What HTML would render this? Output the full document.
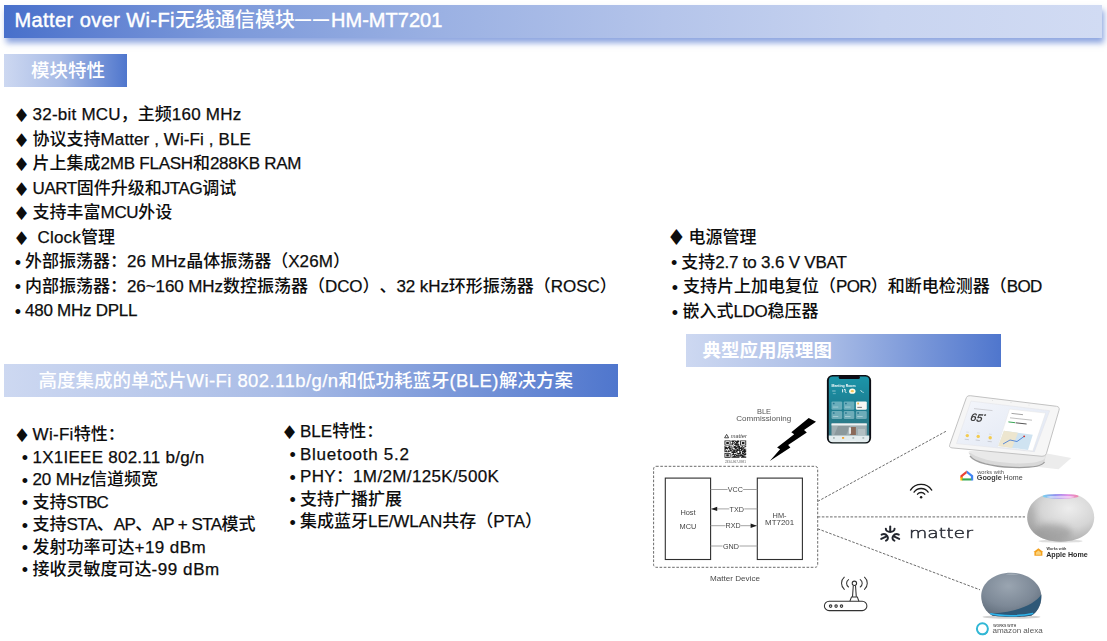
<!DOCTYPE html>
<html lang="zh-CN">
<head>
<meta charset="utf-8">
<title>Matter over Wi-Fi无线通信模块——HM-MT7201</title>
<style>

html,body{margin:0;padding:0;background:#fff;}
body{width:1107px;height:641px;position:relative;overflow:hidden;
  font-family:"Liberation Sans","Noto Sans CJK SC",sans-serif;color:#0d0d0d;
  text-spacing-trim:space-all;font-kerning:normal;}
.bar{position:absolute;color:#fff;white-space:nowrap;}
#hdr{left:4px;top:5px;width:1098px;height:33px;
  background:linear-gradient(90deg,#4870cb 0%,#6485d3 10%,#7c99da 20%,#9bb1e3 40%,#b4c4ea 60%,#c8d4f0 80%,#d1dbf3 100%);
  box-shadow:2px 5px 6px rgba(72,112,205,0.62);}
#hdr span.ti{position:absolute;left:10.5px;top:-1.5px;line-height:33px;font-size:20px;font-weight:500;}
#hdr .l{-webkit-text-stroke-width:0.45px;}
.lbl{background:linear-gradient(90deg,#cdd8f1 0%,#a9bce6 45%,#4f76cd 100%);height:33px;line-height:33px;font-weight:500;font-size:18.5px;}
.t{position:absolute;white-space:nowrap;font-size:17px;line-height:24px;height:24px;font-weight:500;}
.l{font-size:17px;font-weight:400;-webkit-text-stroke-width:0.25px;}
.mk{position:absolute;line-height:24px;height:24px;font-size:17px;white-space:nowrap;}
.dm{font-family:"DejaVu Sans",sans-serif;font-size:19px;margin-left:-1px;margin-top:0.3px;}
.dM{font-size:22px;margin-left:-1.6px;margin-top:0px;}
.bl{font-family:"Liberation Sans",sans-serif;font-size:18px;margin-left:-0.7px;margin-top:0.9px;}

</style>
</head>
<body>
<div class="bar" id="hdr"><span class="ti"><span class="l" id="t1" style="font-size:20px;letter-spacing:0.42px">Matter over Wi-Fi</span><span id="t2">无线通信模块</span><span id="t3" style="letter-spacing:2.00px;font-size:16px;font-weight:700;position:relative;top:-1.4px;">——</span><span class="l" id="t4" style="font-size:20px;letter-spacing:0.03px">HM-MT7201</span></span></div>
<div class="bar lbl" style="left:4px;top:54px;width:123px;"><span style="position:absolute;left:27px;">模块特性</span></div>
<span class="mk dm" style="left:14.00px;top:103.00px;">♦</span>
<div class="t" id="a1" style="left:32.60px;top:103.00px;"><span class="l" style="letter-spacing:0.23px;">32-bit MCU</span>，主频<span class="l" style="letter-spacing:0.23px;">160 MHz</span></div>
<span class="mk dm" style="left:14.00px;top:127.50px;">♦</span>
<div class="t" id="a2" style="left:32.60px;top:127.50px;">协议支持<span class="l" style="letter-spacing:0.10px;">Matter , Wi-Fi , BLE</span></div>
<span class="mk dm" style="left:14.00px;top:152.00px;">♦</span>
<div class="t" id="a3" style="left:32.60px;top:152.00px;">片上集成<span class="l" style="letter-spacing:-0.24px;">2MB FLASH</span>和<span class="l" style="letter-spacing:-0.24px;">288KB RAM</span></div>
<span class="mk dm" style="left:14.00px;top:176.50px;">♦</span>
<div class="t" id="a4" style="left:32.60px;top:176.50px;"><span class="l" style="letter-spacing:-0.44px;">UART</span>固件升级和<span class="l" style="letter-spacing:-0.44px;">JTAG</span>调试</div>
<span class="mk dm" style="left:14.00px;top:201.00px;">♦</span>
<div class="t" id="a5" style="left:32.60px;top:201.00px;">支持丰富<span class="l" style="letter-spacing:-0.33px;">MCU</span>外设</div>
<span class="mk dm" style="left:14.00px;top:225.50px;">♦</span>
<div class="t" id="a6" style="left:37.50px;top:225.50px;"><span class="l" style="letter-spacing:0.20px;">Clock</span>管理</div>
<span class="mk bl" style="left:15.50px;top:250.00px;">•</span>
<div class="t" id="a7" style="left:25.00px;top:250.00px;">外部振荡器：<span class="l" style="letter-spacing:0.10px;">26 MHz</span>晶体振荡器（<span class="l" style="letter-spacing:0.10px;">X26M</span>）</div>
<span class="mk bl" style="left:15.50px;top:274.50px;">•</span>
<div class="t" id="a8" style="left:25.00px;top:274.50px;">内部振荡器：<span class="l" style="letter-spacing:-0.09px;">26~160 MHz</span>数控振荡器（<span class="l" style="letter-spacing:-0.09px;">DCO</span>）、<span class="l" style="letter-spacing:-0.09px;">32 kHz</span>环形振荡器（<span class="l" style="letter-spacing:-0.09px;">ROSC</span>）</div>
<span class="mk bl" style="left:15.50px;top:299.00px;">•</span>
<div class="t" id="a9" style="left:25.00px;top:299.00px;"><span class="l" style="letter-spacing:-0.25px;">480 MHz DPLL</span></div>
<span class="mk dm dM" style="left:668.00px;top:225.50px;">♦</span>
<div class="t" id="p1" style="left:688.50px;top:225.50px;">电源管理</div>
<span class="mk bl" style="left:671.75px;top:250.50px;">•</span>
<div class="t" id="p2" style="left:681.25px;top:250.50px;">支持<span class="l" style="letter-spacing:-0.20px;">2.7 to 3.6 V VBAT</span></div>
<span class="mk bl" style="left:672.50px;top:275.20px;">•</span>
<div class="t" id="p3" style="left:683.00px;top:275.20px;">支持片上加电复位（<span class="l" style="letter-spacing:-0.67px;">POR</span>）和断电检测器（<span class="l" style="letter-spacing:-0.67px;">BOD</span></div>
<span class="mk bl" style="left:672.50px;top:300.00px;">•</span>
<div class="t" id="p4" style="left:682.50px;top:300.00px;">嵌入式<span class="l" style="letter-spacing:-0.33px;">LDO</span>稳压器</div>
<span class="mk dm" style="left:14.50px;top:423.00px;">♦</span>
<div class="t" id="w1" style="left:32.55px;top:423.00px;"><span class="l" style="letter-spacing:0.30px;">Wi-Fi</span>特性：</div>
<span class="mk bl" style="left:22.50px;top:445.50px;">•</span>
<div class="t" id="w2" style="left:32.55px;top:445.50px;"><span class="l" style="letter-spacing:0.25px;">1X1IEEE 802.11 b/g/n</span></div>
<span class="mk bl" style="left:22.50px;top:468.00px;">•</span>
<div class="t" id="w3" style="left:32.55px;top:468.00px;"><span class="l" style="letter-spacing:-0.17px;">20 MHz</span>信道频宽</div>
<span class="mk bl" style="left:22.50px;top:490.50px;">•</span>
<div class="t" id="w4" style="left:32.55px;top:490.50px;">支持<span class="l" style="letter-spacing:-1.00px;">STBC</span></div>
<span class="mk bl" style="left:22.50px;top:513.00px;">•</span>
<div class="t" id="w5" style="left:32.55px;top:513.00px;">支持<span class="l" style="letter-spacing:-0.54px;">STA</span>、<span class="l" style="letter-spacing:-0.54px;">AP</span>、<span class="l" style="letter-spacing:-0.54px;">AP + STA</span>模式</div>
<span class="mk bl" style="left:22.50px;top:535.50px;">•</span>
<div class="t" id="w6" style="left:32.55px;top:535.50px;">发射功率可达<span class="l" style="letter-spacing:0.43px;">+19 dBm</span></div>
<span class="mk bl" style="left:22.50px;top:557.50px;">•</span>
<div class="t" id="w7" style="left:32.55px;top:557.50px;">接收灵敏度可达<span class="l" style="letter-spacing:0.57px;">-99 dBm</span></div>
<span class="mk dm" style="left:282.00px;top:420.00px;">♦</span>
<div class="t" id="b1" style="left:300.00px;top:420.00px;"><span class="l" style="letter-spacing:-0.00px;">BLE</span>特性：</div>
<span class="mk bl" style="left:290.25px;top:442.50px;">•</span>
<div class="t" id="b2" style="left:300.00px;top:442.50px;"><span class="l" style="letter-spacing:0.73px;">Bluetooth 5.2</span></div>
<span class="mk bl" style="left:290.25px;top:465.00px;">•</span>
<div class="t" id="b3" style="left:300.00px;top:465.00px;"><span class="l" style="letter-spacing:0.36px;">PHY</span>：<span class="l" style="letter-spacing:0.36px;">1M/2M/125K/500K</span></div>
<span class="mk bl" style="left:290.25px;top:487.50px;">•</span>
<div class="t" id="b4" style="left:300.00px;top:487.50px;">支持广播扩展</div>
<span class="mk bl" style="left:290.25px;top:510.00px;">•</span>
<div class="t" id="b5" style="left:300.00px;top:510.00px;">集成蓝牙<span class="l" style="letter-spacing:-0.05px;">LE/WLAN</span>共存（<span class="l" style="letter-spacing:-0.05px;">PTA</span>）</div>
<div class="bar lbl" style="left:4px;top:364px;width:614px;"><span id="s2" style="position:absolute;left:34.5px;">高度集成的单芯片<span class="l" style="letter-spacing:0.43px;font-size:18.50px;">Wi-Fi 802.11b/g/n</span>和低功耗蓝牙<span class="l" style="letter-spacing:0.43px;font-size:18.50px;">(BLE)</span>解决方案</span></div>
<div class="bar lbl" style="left:686px;top:334px;width:315px;height:32.5px;line-height:34px;font-weight:700;"><span style="position:absolute;left:16.5px;">典型应用原理图</span></div>
<svg style="position:absolute;left:640px;top:368px;" width="467" height="273" viewBox="640 368 467 273" font-family="'Liberation Sans',sans-serif">
<defs>
<linearGradient id="gPhone" x1="0" y1="0" x2="0" y2="1"><stop offset="0" stop-color="#1b95a9"/><stop offset="0.45" stop-color="#1c7e92"/><stop offset="1" stop-color="#3b7782"/></linearGradient>
<radialGradient id="gPod" cx="0.62" cy="0.3" r="0.8"><stop offset="0" stop-color="#ededed"/><stop offset="0.5" stop-color="#d6d6d6"/><stop offset="1" stop-color="#a2a2a2"/></radialGradient>
<radialGradient id="gEcho" cx="0.45" cy="0.3" r="0.75"><stop offset="0" stop-color="#9aa5b1"/><stop offset="0.6" stop-color="#7d8997"/><stop offset="1" stop-color="#5d6a78"/></radialGradient>
<linearGradient id="gSiri" x1="0" y1="0" x2="1" y2="0"><stop offset="0" stop-color="#7ad7f0"/><stop offset="0.35" stop-color="#8c8df0"/><stop offset="0.7" stop-color="#e08be8"/><stop offset="1" stop-color="#f08aa8"/></linearGradient>
<linearGradient id="gScr" x1="0" y1="0" x2="1" y2="1"><stop offset="0" stop-color="#f4f6fb"/><stop offset="1" stop-color="#dfe6f3"/></linearGradient>
<filter id="fblur3" x="-50%" y="-50%" width="200%" height="200%"><feGaussianBlur stdDeviation="3"/></filter>
<filter id="soft" x="-5%" y="-5%" width="110%" height="110%"><feGaussianBlur stdDeviation="0.35"/></filter>
</defs>
<g filter="url(#soft)">
<rect x="653.6" y="466.3" width="164.1" height="101" rx="2.5" fill="none" stroke="#5a5a5a" stroke-width="0.9" stroke-dasharray="2.6 1.6"/>
<rect x="665.3" y="478.1" width="45.3" height="81.4" fill="#fff" stroke="#2e2e2e" stroke-width="1.1"/>
<rect x="757.3" y="478.1" width="45.1" height="81.4" fill="#fff" stroke="#2e2e2e" stroke-width="1.1"/>
<line x1="710.6" y1="489.5" x2="757.3" y2="489.5" stroke="#9a9a9a" stroke-width="0.9"/>
<line x1="710.6" y1="508.9" x2="757.3" y2="508.9" stroke="#9a9a9a" stroke-width="0.9"/>
<line x1="710.6" y1="525.7" x2="757.3" y2="525.7" stroke="#9a9a9a" stroke-width="0.9"/>
<line x1="710.6" y1="546.0" x2="757.3" y2="546.0" stroke="#9a9a9a" stroke-width="0.9"/>
<polygon points="711.2,508.9 717.2,506.7 717.2,511.1" fill="#1a1a1a"/>
<polygon points="756.8,525.7 750.6,523.5 750.6,527.9" fill="#1a1a1a"/>
<rect x="727.6" y="486.0" width="15.5" height="7" fill="#fff"/>
<text x="735.4" y="492.1" font-size="7.2" text-anchor="middle" fill="#444">VCC</text>
<rect x="729.3" y="505.4" width="15.0" height="7" fill="#fff"/>
<text x="736.8" y="511.5" font-size="7.2" text-anchor="middle" fill="#444">TXD</text>
<rect x="725.5" y="522.2" width="15.5" height="7" fill="#fff"/>
<text x="733.2" y="528.3" font-size="7.2" text-anchor="middle" fill="#444">RXD</text>
<rect x="722.5" y="542.5" width="17.0" height="7" fill="#fff"/>
<text x="731.0" y="548.6" font-size="7.2" text-anchor="middle" fill="#444">GND</text>
<text x="688" y="514.7" font-size="7.4" text-anchor="middle" fill="#444">Host</text>
<text x="688" y="529.2" font-size="7.4" text-anchor="middle" fill="#444">MCU</text>
<text x="779.6" y="517.8" font-size="7.4" text-anchor="middle" fill="#444">HM-</text>
<text x="779.6" y="525.4" font-size="7.4" text-anchor="middle" fill="#444" textLength="29" lengthAdjust="spacingAndGlyphs">MT7201</text>
<text x="735" y="581.3" font-size="7.2" text-anchor="middle" fill="#4a4a4a" textLength="50" lengthAdjust="spacingAndGlyphs">Matter Device</text>
<text x="764" y="414.2" font-size="7.4" text-anchor="middle" fill="#555">BLE</text>
<text x="763.8" y="420.9" font-size="7.4" text-anchor="middle" fill="#555" textLength="55" lengthAdjust="spacingAndGlyphs">Commissioning</text>
<path d="M724.50 440.60h6.08v0.74h-6.08zM731.44 440.60h4.34v0.74h-4.34zM736.65 440.60h2.60v0.74h-2.60zM740.12 440.60h6.08v0.74h-6.08zM724.50 441.29h0.87v0.74h-0.87zM729.71 441.29h0.87v0.74h-0.87zM731.44 441.29h2.60v0.74h-2.60zM734.92 441.29h4.34v0.74h-4.34zM740.12 441.29h0.87v0.74h-0.87zM745.33 441.29h0.87v0.74h-0.87zM724.50 441.98h0.87v0.74h-0.87zM726.24 441.98h2.60v0.74h-2.60zM729.71 441.98h0.87v0.74h-0.87zM732.31 441.98h0.87v0.74h-0.87zM734.05 441.98h0.87v0.74h-0.87zM735.78 441.98h2.60v0.74h-2.60zM740.12 441.98h0.87v0.74h-0.87zM741.86 441.98h2.60v0.74h-2.60zM745.33 441.98h0.87v0.74h-0.87zM724.50 442.66h0.87v0.74h-0.87zM726.24 442.66h2.60v0.74h-2.60zM729.71 442.66h0.87v0.74h-0.87zM732.31 442.66h2.60v0.74h-2.60zM735.78 442.66h2.60v0.74h-2.60zM740.12 442.66h0.87v0.74h-0.87zM741.86 442.66h2.60v0.74h-2.60zM745.33 442.66h0.87v0.74h-0.87zM724.50 443.35h0.87v0.74h-0.87zM726.24 443.35h2.60v0.74h-2.60zM729.71 443.35h0.87v0.74h-0.87zM731.44 443.35h1.74v0.74h-1.74zM734.92 443.35h1.74v0.74h-1.74zM737.52 443.35h0.87v0.74h-0.87zM740.12 443.35h0.87v0.74h-0.87zM741.86 443.35h2.60v0.74h-2.60zM745.33 443.35h0.87v0.74h-0.87zM724.50 444.04h0.87v0.74h-0.87zM729.71 444.04h0.87v0.74h-0.87zM731.44 444.04h1.74v0.74h-1.74zM734.05 444.04h5.21v0.74h-5.21zM740.12 444.04h0.87v0.74h-0.87zM745.33 444.04h0.87v0.74h-0.87zM724.50 444.73h6.08v0.74h-6.08zM731.44 444.73h0.87v0.74h-0.87zM734.92 444.73h2.60v0.74h-2.60zM738.39 444.73h0.87v0.74h-0.87zM740.12 444.73h6.08v0.74h-6.08zM733.18 445.42h0.87v0.74h-0.87zM736.65 445.42h2.60v0.74h-2.60zM724.50 446.10h0.87v0.74h-0.87zM728.84 446.10h1.74v0.74h-1.74zM731.44 446.10h0.87v0.74h-0.87zM734.05 446.10h1.74v0.74h-1.74zM737.52 446.10h2.60v0.74h-2.60zM741.86 446.10h0.87v0.74h-0.87zM744.46 446.10h1.74v0.74h-1.74zM724.50 446.79h2.60v0.74h-2.60zM727.97 446.79h1.74v0.74h-1.74zM730.58 446.79h0.87v0.74h-0.87zM733.18 446.79h6.94v0.74h-6.94zM740.99 446.79h2.60v0.74h-2.60zM744.46 446.79h0.87v0.74h-0.87zM724.50 447.48h6.08v0.74h-6.08zM731.44 447.48h1.74v0.74h-1.74zM734.05 447.48h3.47v0.74h-3.47zM738.39 447.48h3.47v0.74h-3.47zM742.73 447.48h1.74v0.74h-1.74zM724.50 448.17h3.47v0.74h-3.47zM728.84 448.17h2.60v0.74h-2.60zM734.92 448.17h1.74v0.74h-1.74zM738.39 448.17h5.21v0.74h-5.21zM724.50 448.86h0.87v0.74h-0.87zM727.10 448.86h0.87v0.74h-0.87zM729.71 448.86h0.87v0.74h-0.87zM731.44 448.86h1.74v0.74h-1.74zM734.92 448.86h5.21v0.74h-5.21zM740.99 448.86h5.21v0.74h-5.21zM724.50 449.54h1.74v0.74h-1.74zM728.84 449.54h2.60v0.74h-2.60zM732.31 449.54h2.60v0.74h-2.60zM736.65 449.54h1.74v0.74h-1.74zM739.26 449.54h0.87v0.74h-0.87zM740.99 449.54h1.74v0.74h-1.74zM743.60 449.54h1.74v0.74h-1.74zM724.50 450.23h0.87v0.74h-0.87zM726.24 450.23h0.87v0.74h-0.87zM727.97 450.23h0.87v0.74h-0.87zM729.71 450.23h2.60v0.74h-2.60zM733.18 450.23h8.68v0.74h-8.68zM742.73 450.23h3.47v0.74h-3.47zM724.50 450.92h2.60v0.74h-2.60zM727.97 450.92h2.60v0.74h-2.60zM731.44 450.92h0.87v0.74h-0.87zM733.18 450.92h1.74v0.74h-1.74zM735.78 450.92h1.74v0.74h-1.74zM739.26 450.92h0.87v0.74h-0.87zM741.86 450.92h4.34v0.74h-4.34zM724.50 451.61h0.87v0.74h-0.87zM726.24 451.61h2.60v0.74h-2.60zM731.44 451.61h6.08v0.74h-6.08zM739.26 451.61h1.74v0.74h-1.74zM741.86 451.61h4.34v0.74h-4.34zM731.44 452.30h4.34v0.74h-4.34zM736.65 452.30h0.87v0.74h-0.87zM739.26 452.30h1.74v0.74h-1.74zM741.86 452.30h0.87v0.74h-0.87zM743.60 452.30h1.74v0.74h-1.74zM724.50 452.98h6.08v0.74h-6.08zM733.18 452.98h0.87v0.74h-0.87zM736.65 452.98h4.34v0.74h-4.34zM741.86 452.98h2.60v0.74h-2.60zM745.33 452.98h0.87v0.74h-0.87zM724.50 453.67h0.87v0.74h-0.87zM729.71 453.67h0.87v0.74h-0.87zM731.44 453.67h2.60v0.74h-2.60zM734.92 453.67h0.87v0.74h-0.87zM737.52 453.67h2.60v0.74h-2.60zM741.86 453.67h4.34v0.74h-4.34zM724.50 454.36h0.87v0.74h-0.87zM726.24 454.36h2.60v0.74h-2.60zM729.71 454.36h0.87v0.74h-0.87zM732.31 454.36h4.34v0.74h-4.34zM737.52 454.36h0.87v0.74h-0.87zM740.12 454.36h1.74v0.74h-1.74zM743.60 454.36h2.60v0.74h-2.60zM724.50 455.05h0.87v0.74h-0.87zM726.24 455.05h2.60v0.74h-2.60zM729.71 455.05h0.87v0.74h-0.87zM731.44 455.05h0.87v0.74h-0.87zM734.05 455.05h0.87v0.74h-0.87zM735.78 455.05h7.81v0.74h-7.81zM744.46 455.05h0.87v0.74h-0.87zM724.50 455.74h0.87v0.74h-0.87zM726.24 455.74h2.60v0.74h-2.60zM729.71 455.74h0.87v0.74h-0.87zM732.31 455.74h5.21v0.74h-5.21zM738.39 455.74h0.87v0.74h-0.87zM740.12 455.74h4.34v0.74h-4.34zM724.50 456.42h0.87v0.74h-0.87zM729.71 456.42h0.87v0.74h-0.87zM731.44 456.42h0.87v0.74h-0.87zM733.18 456.42h2.60v0.74h-2.60zM736.65 456.42h3.47v0.74h-3.47zM741.86 456.42h4.34v0.74h-4.34zM724.50 457.11h6.08v0.74h-6.08zM731.44 457.11h7.81v0.74h-7.81zM740.99 457.11h5.21v0.74h-5.21z" fill="#1c1c1c"/>
<polygon points="724.6,437.8 726.6,434.4 728.6,437.8" fill="#fff" stroke="#333" stroke-width="0.9"/>
<text x="730.8" y="437.6" font-size="4.6" font-style="italic" fill="#444" textLength="16" lengthAdjust="spacingAndGlyphs">matter</text>
<text x="735.4" y="462.6" font-size="2.8" text-anchor="middle" fill="#666" textLength="21" lengthAdjust="spacingAndGlyphs">2334-967-8981</text>
<polygon points="808.7,418 816,421.7 804,430.1 806.8,432.5 788.1,445.1 790.4,447.4 769.8,461 780.1,449.3 777.1,447.4 794.2,434.3 791.3,432.3" fill="#000"/>
<line x1="817.7" y1="501.4" x2="946.5" y2="431" stroke="#5a5a5a" stroke-width="0.9" stroke-dasharray="2.6 1.5" fill="none"/>
<line x1="817.7" y1="516.9" x2="1025" y2="516.9" stroke="#5a5a5a" stroke-width="0.9" stroke-dasharray="2.6 1.5" fill="none"/>
<line x1="817.7" y1="528.8" x2="980" y2="589.8" stroke="#5a5a5a" stroke-width="0.9" stroke-dasharray="2.6 1.5" fill="none"/>
</g>
<g filter="url(#soft)">
<rect x="826.9" y="375" width="44.2" height="68.6" rx="5.6" fill="#0b0f12"/>
<rect x="828.8" y="376.6" width="40.4" height="65.4" rx="4" fill="url(#gPhone)"/>
<rect x="838.7" y="375.8" width="21.2" height="3.3" rx="1.6" fill="#0b0f12"/>
<text x="831.5" y="387" font-size="3.7" font-weight="700" fill="#fff" textLength="24" lengthAdjust="spacingAndGlyphs">Meeting Room</text>
<path d="M842.6 389.2v3.2M844 389.4h1.2v2.2l1.2 1.4" stroke="#fff" stroke-width="0.9" fill="none"/>
<ellipse cx="852.3" cy="391.2" rx="3.2" ry="2.6" fill="#fffbe9"/><ellipse cx="852.3" cy="391.2" rx="1.7" ry="1.1" fill="#f3c65a"/>
<path d="M860.6 390.2l1.6 1.8M862.6 392.4h1" stroke="#e6f4f6" stroke-width="0.9" fill="none"/>
<rect x="832.2" y="390.6" width="3.4" height="0.8" fill="#cfe9ee" opacity="0.8"/><rect x="832.8" y="393.4" width="3" height="0.7" fill="#cfe9ee" opacity="0.6"/>
<rect x="831.5" y="401.4" width="10.7" height="8.3" rx="1.2" fill="#d6eef2" opacity="0.42"/>
<rect x="832.8" y="402.7" width="1.8" height="1.6" rx="0.5" fill="#1f6f8a" opacity="0.85"/>
<rect x="832.8" y="406.7" width="5.5" height="0.7" fill="#e8f6f8" opacity="0.6"/>
<rect x="843.7" y="401.4" width="10.6" height="8.3" rx="1.2" fill="#d6eef2" opacity="0.42"/>
<rect x="845.0" y="402.7" width="1.8" height="1.6" rx="0.5" fill="#1f6f8a" opacity="0.85"/>
<rect x="845.0" y="406.7" width="5.5" height="0.7" fill="#e8f6f8" opacity="0.6"/>
<rect x="855.9" y="401.4" width="10.9" height="8.3" rx="1.2" fill="#f7f7f4"/>
<rect x="857.3" y="402.6" width="1.6" height="1.8" fill="#f0b73f"/><rect x="857.3" y="406.9" width="4.6" height="0.8" fill="#555"/>
<rect x="831.5" y="410.9" width="10.7" height="8.0" rx="1.2" fill="#d6eef2" opacity="0.42"/>
<rect x="832.8" y="412.2" width="1.8" height="1.6" rx="0.5" fill="#1f6f8a" opacity="0.85"/>
<rect x="832.8" y="416.2" width="5.5" height="0.7" fill="#e8f6f8" opacity="0.6"/>
<rect x="843.7" y="410.9" width="10.6" height="8.0" rx="1.2" fill="#d6eef2" opacity="0.42"/>
<rect x="845.0" y="412.2" width="1.8" height="1.6" rx="0.5" fill="#1f6f8a" opacity="0.85"/>
<rect x="845.0" y="416.2" width="5.5" height="0.7" fill="#e8f6f8" opacity="0.6"/>
<rect x="855.9" y="410.9" width="10.9" height="8.0" rx="1.2" fill="#d6eef2" opacity="0.42"/>
<rect x="857.2" y="412.2" width="1.8" height="1.6" rx="0.5" fill="#1f6f8a" opacity="0.85"/>
<rect x="857.2" y="416.2" width="5.5" height="0.7" fill="#e8f6f8" opacity="0.6"/>
<rect x="831.5" y="423.4" width="35.3" height="12.3" rx="1" fill="#9fadb1"/>
<rect x="831.5" y="423.4" width="35.3" height="2" fill="#eef2f3"/>
<polygon points="838,426 850,426 846,435.6 834,435.6" fill="#8b999d"/>
<rect x="850.3" y="427" width="5.6" height="8" fill="#8a6b5a"/><rect x="848.8" y="427.4" width="2.2" height="6.4" fill="#e4e8ea"/>
<rect x="858" y="429" width="7" height="6" fill="#b3c0c3"/>
<path d="M828.8 435.6h40.4v2.6a4 4 0 0 1-4 4h-32.4a4 4 0 0 1-4-4z" fill="#e3ecee"/>
<rect x="842" y="437" width="2.2" height="1.8" rx="0.5" fill="#f0a030"/><rect x="833" y="437.3" width="1.8" height="1.3" fill="#9aa"/><rect x="852.4" y="437.3" width="1.8" height="1.3" fill="#9aa"/><rect x="862.4" y="437.3" width="1.8" height="1.3" fill="#9aa"/>
<rect x="842" y="440.9" width="14" height="0.7" rx="0.3" fill="#f7f7f7"/>
</g>
<g filter="url(#soft)">
<polygon points="1045.6,453.3 1071.3,458.1 1058.5,469.3 1029.6,466.1" fill="#ececec"/>
<path d="M968.5 452.5 C972 461 990 466.5 1012 467.4 C1030 468 1042 466.5 1044.5 462 L1046 454 Z" fill="#d9d9d9"/>
<path d="M970 456 C975 462.5 992 466.6 1012 467.4 C1030 468 1042 466.5 1044.5 462" fill="none" stroke="#8e8e8e" stroke-width="1.3" opacity="0.85"/>
<path d="M968.5 451 C975 458 992 462 1012 463.2 C1030 464 1040 462 1044.5 459 L1046 453 Z" fill="#e9e9e9"/>
<path d="M970.2 395.7 L1056.5 406.3 Q1060 406.9 1059 410.2 L1046.4 453.6 Q1045.4 456.6 1042 456.3 L952 447.9 Q948.6 447.5 949.8 444.5 L966.4 397.6 Q967.2 395.3 970.2 395.7Z" fill="#f6f6f6" stroke="#c2c2c2" stroke-width="1"/>
<polygon points="971,401.1 1049.7,410.7 1034.4,451.7 956.5,443.6" fill="url(#gScr)" stroke="#e3e3e6" stroke-width="0.5"/>
<polygon points="1009.5,409.1 1045.6,413.1 1032.8,450.9 997.5,446.8" fill="#ffffff" stroke="#e4e4e4" stroke-width="0.5"/>
<polygon points="1003.9,430.8 1032.8,434.8 1028,450 998.3,446" fill="#cfe3f1"/>
<polygon points="1003.9,430.8 1018,432.8 1012,447.9 998.3,446" fill="#ede6cf"/>
<path d="M1003 444 L1010 440 L1017 441.5 L1024 436.5" stroke="#4a7fd6" stroke-width="0.9" fill="none"/><circle cx="1024.2" cy="436.3" r="0.9" fill="#d93025"/>
<line x1="1011.5" y1="413.4" x2="1023" y2="414.7" stroke="#9a9a9a" stroke-width="0.9"/>
<line x1="1010" y1="417.8" x2="1032" y2="420.2" stroke="#b0b0b0" stroke-width="0.8"/>
<line x1="1008.4" y1="421.9" x2="1015" y2="422.7" stroke="#3aa757" stroke-width="1"/><line x1="1015.6" y1="422.8" x2="1026.6" y2="424" stroke="#555" stroke-width="1"/>
<line x1="974" y1="408.6" x2="992.5" y2="410.6" stroke="#b8b8bd" stroke-width="0.6"/>
<text transform="translate(969.6 420.6) rotate(6) skewX(-14)" font-size="10.8" fill="#333" stroke="#333" stroke-width="0.25">65<tspan font-size="5.5" dy="-4">°</tspan></text>
<circle cx="967.3" cy="435.6" r="1.7" fill="#f3cb4f"/>
<line x1="964.7" y1="439.2" x2="968.9" y2="439.7" stroke="#b9bcc4" stroke-width="0.7"/>
<line x1="966.1" y1="432.0" x2="968.9" y2="432.3" stroke="#c4c7ce" stroke-width="0.5"/>
<circle cx="978.2" cy="436.4" r="1.7" fill="#f3cb4f"/>
<line x1="975.6" y1="440.0" x2="979.8" y2="440.5" stroke="#b9bcc4" stroke-width="0.7"/>
<line x1="977.0" y1="432.8" x2="979.8" y2="433.1" stroke="#c4c7ce" stroke-width="0.5"/>
<circle cx="990.2" cy="437.7" r="1.7" fill="#f3cb4f"/>
<line x1="987.6" y1="441.3" x2="991.8" y2="441.8" stroke="#b9bcc4" stroke-width="0.7"/>
<line x1="989.0" y1="434.1" x2="991.8" y2="434.4" stroke="#c4c7ce" stroke-width="0.5"/>
<circle cx="992.6" cy="400.6" r="0.35" fill="#bbb"/><circle cx="1011" cy="402.7" r="0.35" fill="#bbb"/><circle cx="1029" cy="405" r="0.35" fill="#bbb"/>
<path d="M966.8 470.5 L960.4 475.6 L960.4 478 L962.7 478 L962.7 476.4 L966.8 473.2 Z" fill="#ea4335"/>
<path d="M966.8 470.5 L973.2 475.6 L973.2 480.5 L970.9 480.5 L970.9 476.4 L966.8 473.2Z" fill="#4285f4"/>
<path d="M960.4 477.2 L962.7 477.2 L962.7 480.5 L960.4 480.5Z" fill="#fbbc04"/>
<path d="M962.2 478.4 L971.3 478.4 L971.3 480.5 L962.2 480.5Z" fill="#34a853"/>
<text x="977.2" y="474.3" font-size="5" fill="#555" textLength="26.8" lengthAdjust="spacingAndGlyphs">works with</text>
<text x="976.8" y="480.4" font-size="6.5" fill="#3c3c3c"><tspan font-weight="700" textLength="25" lengthAdjust="spacingAndGlyphs">Google</tspan><tspan dx="1.8" textLength="19" lengthAdjust="spacingAndGlyphs">Home</tspan></text>
<ellipse cx="1060.5" cy="541.2" rx="22" ry="1.6" fill="#bdbdbd" opacity="0.5"/>
<clipPath id="cPod"><path d="M1043 495.6 C1034 499 1027.2 507.5 1027.2 517.6 C1027.2 530 1038 541.6 1060.7 541.8 C1083.4 541.6 1094.2 530 1094.2 517.6 C1094.2 507.5 1087.4 499 1078.4 495.6 C1072 493.7 1049.4 493.7 1043 495.6Z"/></clipPath>
<path d="M1043 495.6 C1034 499 1027.2 507.5 1027.2 517.6 C1027.2 530 1038 541.6 1060.7 541.8 C1083.4 541.6 1094.2 530 1094.2 517.6 C1094.2 507.5 1087.4 499 1078.4 495.6 C1072 493.7 1049.4 493.7 1043 495.6Z" fill="url(#gPod)"/>
<g clip-path="url(#cPod)"><ellipse cx="1052" cy="533" rx="20" ry="9" fill="#8f8f8f" opacity="0.55" filter="url(#fblur3)"/><ellipse cx="1030" cy="520" rx="5" ry="16" fill="#9a9a9a" opacity="0.45" filter="url(#fblur3)"/></g>
<ellipse cx="1060.6" cy="496.3" rx="18" ry="2.4" fill="url(#gSiri)"/>
<ellipse cx="1060.6" cy="497" rx="14" ry="1.3" fill="#fff" opacity="0.55"/>
<path d="M1038.4 548.3 L1043.3 552 L1042.4 552 L1042.4 555.8 L1034.4 555.8 L1034.4 552 L1033.5 552Z" fill="#f4a11f"/>
<path d="M1038.4 550.6 L1040.9 552.6 L1040.9 554.7 L1035.9 554.7 L1035.9 552.6Z" fill="#fbd27a"/>
<text x="1046.4" y="550.4" font-size="3.3" font-weight="700" fill="#444" textLength="20" lengthAdjust="spacingAndGlyphs">Works with</text>
<text x="1046.2" y="556.5" font-size="7.4" font-weight="700" fill="#2c2c2c" textLength="41.5" lengthAdjust="spacingAndGlyphs">Apple Home</text>
<ellipse cx="1011.5" cy="617" rx="29" ry="1.8" fill="#9a9a9a" opacity="0.45"/>
<path id="echoBody" d="M981.2 596 C981.2 583 994 572.8 1011 572.8 C1028.5 572.8 1041.4 583.5 1041.4 597 C1041.4 606 1036.5 612.5 1031.5 615.6 C1024 617.3 1000 617.3 992 615.6 C986 612 981.2 605 981.2 596Z" fill="url(#gEcho)"/>
<path d="M1041.3 594.5 C1036 603 1020 611.5 992.5 613.5 L992 615.6 C1000 617.3 1024 617.3 1031.5 615.6 C1036.5 612.5 1041.6 606 1041.3 594.5Z" fill="#2d5877"/>
<path d="M990.8 613.8 C1000 616.2 1022 616.4 1032.6 613.6" stroke="#2fb6ee" stroke-width="1.5" fill="none" stroke-linecap="round"/>
<ellipse cx="1012" cy="574.3" rx="6" ry="0.8" fill="#a9b3bd" opacity="0.7"/>
<circle cx="982.4" cy="628.8" r="5.5" fill="none" stroke="#31b7d5" stroke-width="2"/>
<path d="M982.4 635.3 C985 635.3 987.5 633.5 988.2 631.5 L985.8 633 Z" fill="#31b7d5"/>
<text x="993.2" y="627" font-size="3.2" font-weight="700" fill="#5a5a5a" textLength="23" lengthAdjust="spacingAndGlyphs">WORKS WITH</text>
<text x="992.4" y="633.3" font-size="7.5" fill="#5a5a5a" textLength="50.3" lengthAdjust="spacingAndGlyphs">amazon alexa</text>
<circle cx="921.1" cy="497.2" r="1.25" fill="#1a1a1a"/>
<path d="M917.50 494.18 A4.70 4.70 0 0 1 924.70 494.18" stroke="#1a1a1a" stroke-width="1.35" fill="none" stroke-linecap="round"/>
<path d="M914.06 492.09 A8.70 8.70 0 0 1 928.14 492.09" stroke="#1a1a1a" stroke-width="1.35" fill="none" stroke-linecap="round"/>
<path d="M910.49 490.04 A12.80 12.80 0 0 1 931.71 490.04" stroke="#1a1a1a" stroke-width="1.35" fill="none" stroke-linecap="round"/>
<g transform="translate(890.2 534.7) scale(1.25 1)" stroke="#23262f" stroke-width="2" fill="none" stroke-linecap="round">
<g transform="rotate(0)"><path vector-effect="non-scaling-stroke" d="M0 -8.3V-3.4"/><path vector-effect="non-scaling-stroke" d="M-3.5 -5.9A3.5 3.2 0 0 0 3.5 -5.9"/></g>
<g transform="rotate(120)"><path vector-effect="non-scaling-stroke" d="M0 -8.3V-3.4"/><path vector-effect="non-scaling-stroke" d="M-3.5 -5.9A3.5 3.2 0 0 0 3.5 -5.9"/></g>
<g transform="rotate(240)"><path vector-effect="non-scaling-stroke" d="M0 -8.3V-3.4"/><path vector-effect="non-scaling-stroke" d="M-3.5 -5.9A3.5 3.2 0 0 0 3.5 -5.9"/></g>
</g>
<text x="908.9" y="538.4" font-family="'DejaVu Sans Light','DejaVu Sans',sans-serif" font-weight="200" font-size="14.4" fill="#2a2d36" stroke="#2a2d36" stroke-width="0.45" textLength="64" lengthAdjust="spacingAndGlyphs">matter</text>
<rect x="824.4" y="601.2" width="42.5" height="9.4" rx="4.7" stroke="#333" stroke-width="1.05" fill="none"/>
<circle cx="830.6" cy="606.1" r="1.25" stroke="#333" stroke-width="1.05" fill="none"/>
<circle cx="836.1" cy="606.1" r="1.25" stroke="#333" stroke-width="1.05" fill="none"/>
<circle cx="841.5" cy="606.1" r="1.25" stroke="#333" stroke-width="1.05" fill="none"/>
<path d="M849.9 601.2 L851.5 596.9 L857.3 596.9 L858.9 601.2" stroke="#333" stroke-width="1.05" fill="none"/>
<path d="M852.5 596.9 L853.3 585.5 M856.3 596.9 L855.5 585.5" stroke="#333" stroke-width="1.05" fill="none"/>
<circle cx="854.4" cy="583.3" r="2.2" stroke="#333" stroke-width="1.05" fill="none"/>
<path d="M848.55 579.63 A4.40 4.40 0 0 0 848.55 586.97" stroke="#333" stroke-width="1.05" fill="none" stroke-linecap="round"/>
<path d="M860.25 579.63 A4.40 4.40 0 0 1 860.25 586.97" stroke="#333" stroke-width="1.05" fill="none" stroke-linecap="round"/>
<path d="M844.30 577.20 A8.10 8.10 0 0 0 844.30 589.40" stroke="#333" stroke-width="1.05" fill="none" stroke-linecap="round"/>
<path d="M864.50 577.20 A8.10 8.10 0 0 1 864.50 589.40" stroke="#333" stroke-width="1.05" fill="none" stroke-linecap="round"/>
</g>
</svg>
</body>
</html>
